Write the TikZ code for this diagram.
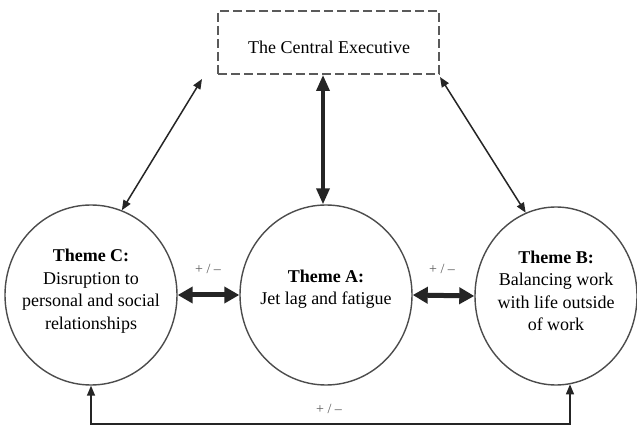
\documentclass[tikz,border=0pt]{standalone}
\usepackage{fontspec}
\setmainfont{Liberation Serif}
\usetikzlibrary{shapes.geometric,arrows.meta}

\definecolor{inkdark}{HTML}{252525}
\definecolor{ringgray}{HTML}{4C4C4C}
\definecolor{signgray}{HTML}{5A5A5A}

\tikzset{
  theme/.style={ellipse, draw=ringgray, line width=1.4pt, fill=white,
    minimum width=172pt, minimum height=180pt, inner sep=0pt},
  themetext/.style={align=center, inner sep=0pt,
    font=\rmfamily\fontsize{18}{22.5}\selectfont},
  exec/.style={draw=signgray, line width=2pt, dash pattern=on 9pt off 4pt,
    minimum width=221pt, minimum height=63pt, inner sep=0pt},
  exectext/.style={inner sep=0pt, font=\rmfamily\fontsize{18}{22}\selectfont},
  thinlink/.style={draw=inkdark, line width=1.5pt,
    {Triangle[length=10pt,width=8pt]}-{Triangle[length=10pt,width=8pt]}},
  boldlink/.style={draw=inkdark, line width=5pt,
    {Triangle[length=15pt,width=16pt]}-{Triangle[length=15pt,width=16pt]}},
  centrallink/.style={draw=inkdark, line width=3.5pt,
    {Triangle[length=16pt,width=13pt]}-{Triangle[length=16pt,width=13pt]}},
  sign/.style={fill=white, text=signgray, inner sep=2pt,
    font=\rmfamily\fontsize{14}{16}\selectfont},
}

\begin{document}
\begin{tikzpicture}[x=1pt, y=-1pt]
  \useasboundingbox[fill=white] (0,0) rectangle (637,427);

  % the supervisory box
  \node[exec] (exec) at (328.5,42.5) {};
  \node[exectext] (execlabel) at (329,47) {The Central Executive};

  % the three themes: fixed-size rings with their captions on top
  \node[theme] (C) at (91,295) {};
  \node[theme] (A) at (326,295) {};
  \node[theme, minimum width=162pt, minimum height=178pt] (B) at (556,296) {};

  \node[themetext] (Ctext) at (91,291)
    {\textbf{Theme C:}\\Disruption to\\personal and social\\relationships};
  \node[themetext] (Atext) at (326,289) {\textbf{Theme A:}\\Jet lag and fatigue};
  \node[themetext] (Btext) at (556,291)
    {\textbf{Theme B:}\\Balancing work\\with life outside\\of work};

  % free ends near the corners of the box and the return line level
  \coordinate (execL) at (202,79);
  \coordinate (execR) at (440,77);
  \coordinate (baseY) at (0,424);

  % links to the central executive
  \draw[thinlink] (execL) -- (C.70);
  \draw[thinlink] (execR) -- (B.110);
  \draw[centrallink] (323,0 |- exec.south) -- (323,0 |- A.north);

  % links between neighbouring themes
  \draw[boldlink] (C.east) -- (A.west);
  \draw[boldlink] (A.east) -- (B.west);

  % return link from C to B along the bottom
  \draw[thinlink] (C.south) |- (B.-81 |- baseY) -- (B.-81);

  % sign labels
  \node[sign] (s1) at (208,269) {+ / –};
  \node[sign] (s2) at (442,269) {+ / –};
  \node[sign] (s3) at (329,409) {+ / –};
\end{tikzpicture}
\end{document}
